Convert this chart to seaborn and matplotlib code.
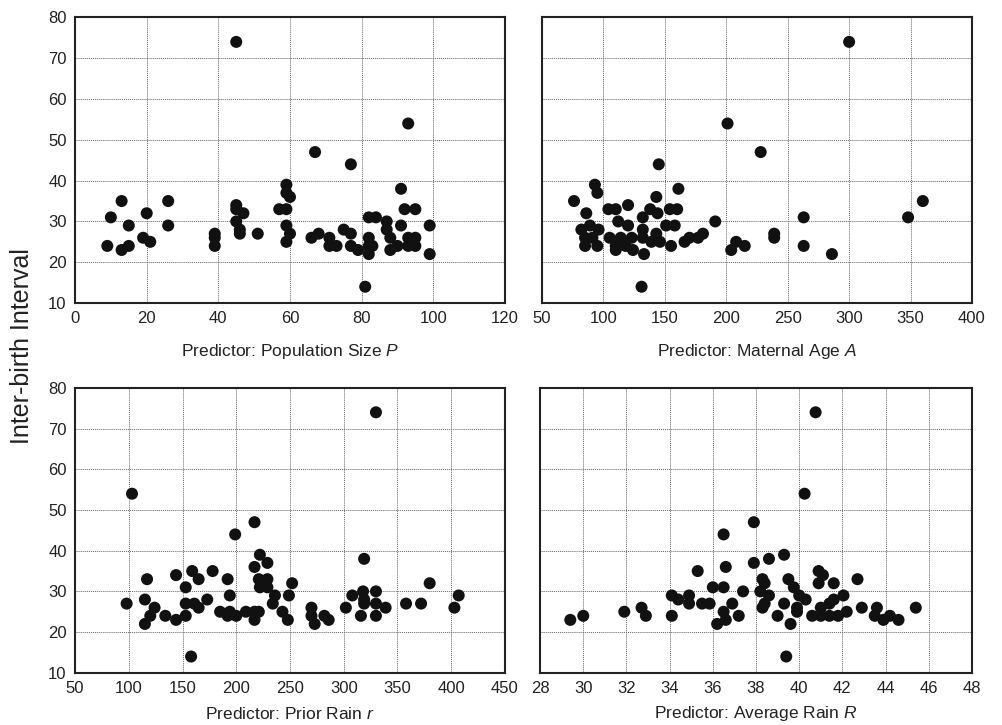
import numpy as np
import pandas as pd
import matplotlib
matplotlib.use("Agg")
import matplotlib.pyplot as plt
import seaborn as sns

# Population size P
pop_x = [45, 13, 10, 15, 20, 26, 26, 9, 13, 15, 19, 21, 39, 39, 39, 45, 45, 47, 45, 46, 46, 51,
         57, 59, 59, 60, 59, 59, 60, 59, 67, 77, 93, 66, 68, 71, 71, 73, 75, 77, 77, 79, 81, 82,
         84, 82, 82, 82, 83, 87, 87, 88, 88, 90, 91, 92, 95, 91, 93, 93, 95, 95, 99, 99]
pop_y = [74, 35, 31, 29, 32, 35, 29, 24, 23, 24, 26, 25, 27, 26, 24, 34, 33, 32, 30, 28, 27, 27,
         33, 39, 37, 36, 33, 29, 27, 25, 47, 44, 54, 26, 27, 26, 24, 24, 28, 27, 24, 23, 14, 31,
         31, 26, 24, 22, 24, 30, 28, 26, 23, 24, 38, 33, 33, 29, 24, 26, 26, 24, 29, 22]

# Maternal age A
age_x = [201, 145, 76, 93, 95, 161, 143, 86, 104, 110, 120, 138, 144, 154, 160, 132, 112, 120,
         89, 82, 96, 132, 151, 158, 191, 85, 85, 95, 91, 105, 110, 110, 114, 118, 123, 124, 132,
         133, 131, 143, 139, 146, 155, 166, 170, 177, 181, 204, 228, 300, 360, 348, 263, 239,
         239, 263, 286, 208, 215]
age_y = [54, 44, 35, 39, 37, 38, 36, 32, 33, 33, 34, 33, 32, 33, 33, 31, 30, 29, 29, 28, 28, 28,
         29, 29, 30, 26, 24, 24, 26, 26, 24, 23, 26, 24, 26, 23, 26, 22, 14, 27, 25, 25, 24, 25,
         26, 26, 27, 23, 47, 74, 35, 31, 31, 27, 26, 24, 22, 25, 24]

# Prior rain r
prior_x = [103, 98, 115, 117, 124, 120, 115, 134, 144, 144, 153, 153, 153, 159, 165, 161, 165,
           158, 173, 178, 192, 194, 185, 192, 194, 200, 199, 209, 217, 217, 222, 229, 221, 229,
           222, 229, 236, 234, 217, 221, 217, 243, 248, 249, 252, 270, 270, 273, 282, 286, 330,
           319, 302, 308, 318, 319, 319, 330, 330, 339, 316, 330, 358, 372, 380, 403, 407]
prior_y = [54, 27, 28, 33, 26, 24, 22, 24, 34, 23, 31, 27, 24, 35, 33, 27, 26, 14, 28, 35, 33, 29,
           25, 24, 25, 24, 44, 25, 47, 36, 39, 37, 33, 33, 31, 31, 29, 27, 25, 25, 23, 25, 23, 29,
           32, 26, 24, 22, 24, 23, 74, 38, 26, 29, 30, 28, 27, 30, 27, 26, 24, 24, 27, 27, 32, 26,
           29]

# Average rain R
avg_x = [29.4, 30.0, 31.9, 32.7, 32.9, 34.1, 34.4, 34.1, 34.9, 34.9, 35.3, 35.5, 35.85, 36.0,
         36.5, 36.6, 36.5, 36.5, 36.2, 36.6, 36.9, 37.2, 37.4, 37.9, 37.9, 38.6, 39.3, 38.3, 38.4,
         38.2, 38.6, 38.4, 38.3, 39.0, 39.3, 39.6, 39.4, 40.25, 40.76, 39.5, 39.75, 40.0, 40.3,
         39.9, 39.9, 40.9, 41.1, 40.9, 41.6, 40.6, 41.0, 41.0, 41.4, 41.6, 41.4, 41.8, 42.05,
         42.2, 42.7, 42.9, 43.6, 43.5, 43.9, 44.2, 44.6, 45.4]
avg_y = [23, 24, 25, 26, 24, 29, 28, 24, 29, 27, 35, 27, 27, 31, 44, 36, 31, 25, 22, 23, 27, 24,
         30, 47, 37, 38, 39, 33, 32, 30, 29, 27, 26, 24, 27, 22, 14, 54, 74, 33, 31, 29, 28, 26,
         25, 35, 34, 32, 32, 24, 26, 24, 27, 28, 24, 24, 29, 25, 33, 26, 26, 24, 23, 24, 23, 26]

panels = [
    (pop_x, pop_y, "Predictor: Population Size $P$", (0, 120), 20),
    (age_x, age_y, "Predictor: Maternal Age $A$", (50, 400), 50),
    (prior_x, prior_y, "Predictor: Prior Rain $r$", (50, 450), 50),
    (avg_x, avg_y, "Predictor: Average Rain $R$", (28, 48), 2),
]

sns.set_theme(style="white")
plt.rcParams['font.family'] = ['Liberation Sans', 'DejaVu Sans']
plt.rcParams['mathtext.fontset'] = 'custom'
plt.rcParams['mathtext.it'] = 'Liberation Sans:italic'
plt.rcParams['mathtext.rm'] = 'Liberation Sans'

fig = plt.figure(figsize=(10.02, 7.25), dpi=100)
boxes = [
    [0.0749, 0.582, 0.429, 0.394],
    [0.541, 0.582, 0.429, 0.394],
    [0.0749, 0.072, 0.429, 0.393],
    [0.539, 0.072, 0.431, 0.393],
]

for i, (xs, ys, label, xlim, step) in enumerate(panels):
    ax = fig.add_axes(boxes[i])
    df = pd.DataFrame({"x": xs, "y": ys})
    sns.scatterplot(data=df, x="x", y="y", ax=ax, color="#111111", s=75,
                    edgecolor="none", zorder=3)
    ax.set_xlim(*xlim)
    ax.set_ylim(10, 80)
    ax.set_xticks(np.arange(xlim[0], xlim[1] + step / 2, step))
    ax.set_yticks(np.arange(10, 81, 10))
    ax.grid(True, color="#666666", linestyle=(0, (1, 1)), linewidth=0.7)
    ax.set_axisbelow(True)
    for sp in ax.spines.values():
        sp.set_color("#222222")
        sp.set_linewidth(1.5)
    ax.tick_params(length=0, labelsize=12, colors="#222222", pad=6)
    if i % 2 == 1:
        ax.set_yticklabels([])
    ax.set_ylabel("")
    ax.set_xlabel(label, fontsize=12.5, color="#222222")
    ax.xaxis.label.set_va("center")
    ax.xaxis.set_label_coords(0.5, -0.171 if i < 2 else -0.144)

fig.text(0.022, 0.523, "Inter-birth Interval", rotation=90, ha="center", va="center",
         fontsize=18, color="#222222")

fig.savefig("out.png", dpi=100)
